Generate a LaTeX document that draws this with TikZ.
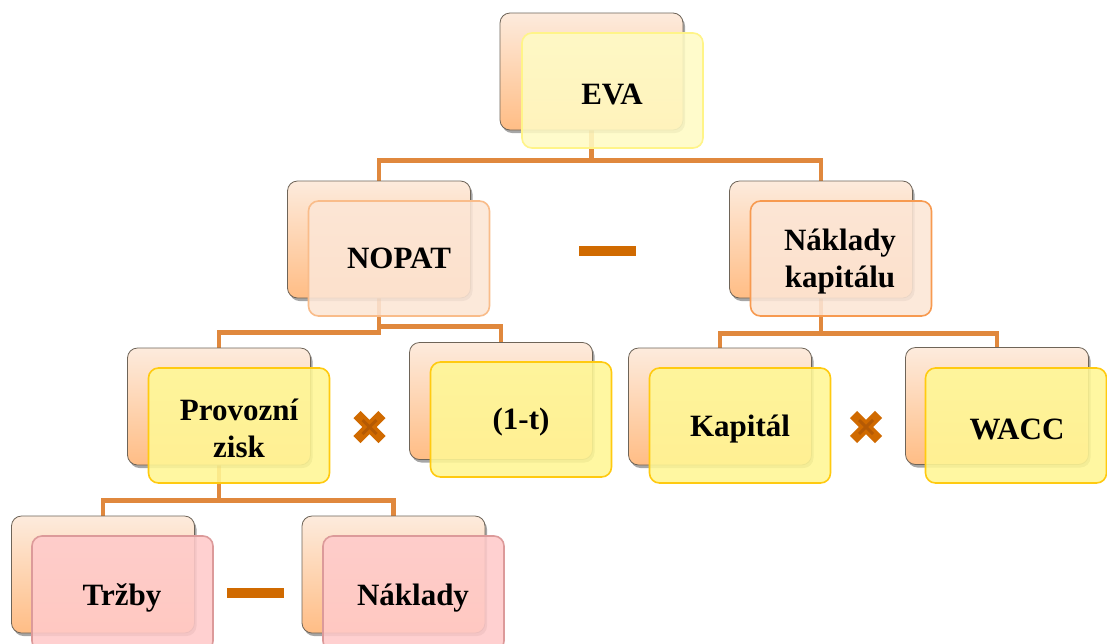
\documentclass[tikz,border=0pt]{standalone}
\usepackage{fontspec}
\setmainfont{Liberation Serif}
\usetikzlibrary{shadows,calc}
\pgfdeclarelayer{background}
\pgfsetlayers{background,main}
\definecolor{backTop}{HTML}{FDEBDD}
\definecolor{backBot}{HTML}{FFBD85}
\definecolor{backEdge}{HTML}{6E6458}
\definecolor{yelFill}{HTML}{FFF795}
\definecolor{yelEdge}{HTML}{FFCA10}
\definecolor{paleFill}{HTML}{FFFBC4}
\definecolor{paleEdge}{HTML}{FFF488}
\definecolor{peachFill}{HTML}{FCE6D6}
\definecolor{peachEdge}{HTML}{F9BC8A}
\definecolor{peachEdgeB}{HTML}{F79A50}
\definecolor{pinkFill}{HTML}{FFCACA}
\definecolor{pinkEdge}{HTML}{DC9A9A}
\definecolor{connCol}{HTML}{E0883D}
\definecolor{opCol}{HTML}{D06A00}
\definecolor{opDark}{HTML}{A04E08}
\begin{document}
\begin{tikzpicture}[x=1pt,y=-1pt,
  backbox/.style={draw=backEdge, line width=0.8pt, rounded corners=10pt,
    minimum width=183pt, minimum height=117pt, inner sep=0pt,
    top color=backTop, bottom color=backBot,
    drop shadow={shadow xshift=2pt, shadow yshift=-3pt, opacity=0.35, fill=black}},
  frontbox/.style={rounded corners=10pt, minimum width=181pt, minimum height=115pt,
    line width=1.6pt, fill opacity=0.88, draw opacity=1, inner sep=0pt},
  yelbox/.style={frontbox, fill=yelFill, draw=yelEdge},
  palebox/.style={frontbox, fill=paleFill, draw=paleEdge},
  peachbox/.style={frontbox, fill=peachFill, draw=peachEdge},
  peachboxB/.style={frontbox, fill=peachFill, draw=peachEdgeB},
  pinkbox/.style={frontbox, fill=pinkFill, draw=pinkEdge},
  boxtext/.style={align=center, inner sep=0pt, font=\bfseries\fontsize{31}{37}\selectfont},
  connector/.style={draw=connCol, line width=4.5pt},
  minusbar/.style={fill=opCol, minimum width=57pt, minimum height=10pt, inner sep=0pt, outer sep=0pt},
  crossmark/.style={minimum size=25pt, inner sep=0pt, outer sep=0pt},
  crossthick/.style={draw=opCol, line width=10pt},
  crossthin/.style={draw=opDark, line width=3pt, opacity=0.55}
]
\useasboundingbox (0,0) rectangle (1107,643);

% EVA
\node[backbox] (evaB) at (591.5,71.5) {};
\node[palebox] (evaF) at (612.5,90.5) {};
\node[boxtext] (evaT) at (612,94) {EVA};
% NOPAT
\node[backbox] (nopB) at (379,239.5) {};
\node[peachbox] (nopF) at (399,258.5) {};
\node[boxtext] (nopT) at (399,258) {NOPAT};
% Naklady kapitalu
\node[backbox] (nkB) at (821,239.5) {};
\node[peachboxB] (nkF) at (841,258.5) {};
\node[boxtext] (nkT) at (840,262) {Náklady\\kapitálu};
% Provozni zisk
\node[backbox] (provB) at (219,406.5) {};
\node[yelbox] (provF) at (239,425.5) {};
\node[boxtext] (provT) at (239,428) {Provozní\\zisk};
% (1-t)
\node[backbox] (oneB) at (501,401) {};
\node[yelbox] (oneF) at (521,419.5) {};
\node[boxtext] (oneT) at (521,422) {(1-t)};
% Kapital
\node[backbox] (kapB) at (720,406.5) {};
\node[yelbox] (kapF) at (740,425.5) {};
\node[boxtext] (kapT) at (740,429) {Kapitál};
% WACC
\node[backbox] (waccB) at (997,406) {};
\node[yelbox] (waccF) at (1016,425.5) {};
\node[boxtext] (waccT) at (1017,429) {WACC};
% Trzby
\node[backbox] (trzB) at (103,574.5) {};
\node[pinkbox] (trzF) at (122.5,593.5) {};
\node[boxtext] (trzT) at (122,598) {Tržby};
% Naklady
\node[backbox] (nakB) at (393.5,574.5) {};
\node[pinkbox] (nakF) at (413.5,593.5) {};
\node[boxtext] (nakT) at (413,598) {Náklady};

% operators
\node[minusbar] (minusA) at (607.5,251) {};
\node[minusbar] (minusB) at (255,593) {};
\node[crossmark] (timesA) at (369.5,427) {};
\node[crossmark] (timesB) at (866,427) {};
\foreach \t in {timesA,timesB}{
  \draw[crossthick] (\t.north west) -- (\t.south east) (\t.north east) -- (\t.south west);
  \draw[crossthin] ($(\t.north west)!0.22!(\t.south east)$) -- ($(\t.north west)!0.78!(\t.south east)$)
                   ($(\t.north east)!0.22!(\t.south west)$) -- ($(\t.north east)!0.78!(\t.south west)$);
}

\begin{pgfonlayer}{background}
\fill[white] (0,0) rectangle (1107,643);
\draw[connector] (evaB.south) -- ++(0,30) -| (nopB.north);
\draw[connector] (evaB.south) -- ++(0,30) -| (nkB.north);
\draw[connector] (nopB.south) -- ++(0,34) -| (provB.north);
\draw[connector] (nopB.south) -- ++(0,28) -| (oneB.north);
\draw[connector] (nkB.south) -- ++(0,35) -| (kapB.north);
\draw[connector] (nkB.south) -- ++(0,35) -| (waccB.north);
\draw[connector] (provB.south) -- ++(0,35) -| (trzB.north);
\draw[connector] (provB.south) -- ++(0,35) -| (nakB.north);
\end{pgfonlayer}
\end{tikzpicture}
\end{document}
